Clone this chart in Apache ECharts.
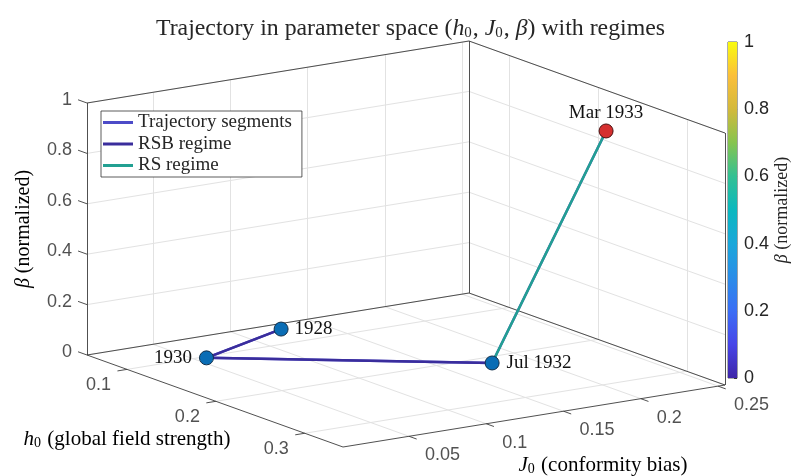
<!DOCTYPE html>
<html><head><meta charset="utf-8">
<script src="https://cdn.jsdelivr.net/npm/echarts@6/dist/echarts.min.js"></script>
<style>html,body{margin:0;padding:0;background:#fff}#c{width:792px;height:476px}</style>
</head><body><div id="c"></div>
<script>
// ---------- data ----------
const pointLabels = ['1928', '1930', 'Jul 1932', 'Mar 1933'];
const h0Values   = [0.067, 0.103, 0.214, 0.297];
const j0Values   = [0.126, 0.057, 0.178, 0.204];
const betaValues = [0, 0, 0, 1];
const rsbPoints = ['1928', '1930', 'Jul 1932'];
const rsPoints  = ['Jul 1932', 'Mar 1933'];
const h0Ticks   = [0.1, 0.2, 0.3];
const j0Ticks   = [0.05, 0.1, 0.15, 0.2, 0.25];
const betaTicks = [0, 0.2, 0.4, 0.6, 0.8, 1];
const h0Lim   = [0.055, 0.343];
const j0Lim   = [0.0073, 0.2545];
const betaLim = [0, 1];

// ---------- camera (orthographic view) ----------
const ORIGIN = [87, 355];
const VEC_H = [256, 92];
const VEC_J = [382, -62];
const VEC_Z = [0, -252];
function P(h, j, z) {
  const fa = (h - h0Lim[0]) / (h0Lim[1] - h0Lim[0]);
  const fb = (j - j0Lim[0]) / (j0Lim[1] - j0Lim[0]);
  const fz = (z - betaLim[0]) / (betaLim[1] - betaLim[0]);
  return [ORIGIN[0] + fa * VEC_H[0] + fb * VEC_J[0] + fz * VEC_Z[0],
          ORIGIN[1] + fa * VEC_H[1] + fb * VEC_J[1] + fz * VEC_Z[1]];
}
const [hA, hB] = h0Lim, [jA, jB] = j0Lim, [zA, zB] = betaLim;
const seg = (a, b) => ({ coords: [P(...a), P(...b)] });

// grid lines on back planes
const gridLines = [];
h0Ticks.forEach(h => { gridLines.push(seg([h, jA, zA], [h, jB, zA])); gridLines.push(seg([h, jB, zA], [h, jB, zB])); });
j0Ticks.forEach(j => { gridLines.push(seg([hA, j, zA], [hB, j, zA])); gridLines.push(seg([hA, j, zA], [hA, j, zB])); });
betaTicks.forEach(z => { gridLines.push(seg([hA, jA, z], [hA, jB, z])); gridLines.push(seg([hA, jB, z], [hB, jB, z])); });

const boxLines = [
  seg([hA, jA, zA], [hA, jA, zB]),
  seg([hA, jA, zA], [hB, jA, zA]),
  seg([hB, jA, zA], [hB, jB, zA]),
  seg([hB, jB, zA], [hB, jB, zB]),
  seg([hA, jB, zA], [hA, jB, zB]),
  seg([hA, jA, zB], [hA, jB, zB]),
  seg([hA, jB, zB], [hB, jB, zB]),
  seg([hA, jA, zA], [hA, jB, zA]),
  seg([hA, jB, zA], [hB, jB, zA])
];
const tickLines = [];
h0Ticks.forEach(h => tickLines.push(seg([h, jA, zA], [h, jA - 0.025 * (jB - jA), zA])));
j0Ticks.forEach(j => tickLines.push(seg([hB, j, zA], [hB + 0.03 * (hB - hA), j, zA])));
betaTicks.forEach(z => tickLines.push(seg([hA, jA, z], [hA - 0.035 * (hB - hA), jA, z])));

const idx = n => pointLabels.indexOf(n);
const proj = i => P(h0Values[i], j0Values[i], betaValues[i]);
const trajData = pointLabels.map((n, i) => proj(i));
const rsbData = rsbPoints.map(n => proj(idx(n)));
const rsData = rsPoints.map(n => proj(idx(n)));

const labelPos = { '1928': ['right', 6], '1930': ['left', 7], 'Jul 1932': ['right', 7], 'Mar 1933': ['top', 1] };
const markerData = pointLabels.map((n, i) => ({
  value: proj(i), name: n,
  itemStyle: { color: n === 'Mar 1933' ? '#d52f2f' : '#0a6db5', borderColor: n === 'Mar 1933' ? '#4a1010' : '#13304a', borderWidth: 1, opacity: 1 },
  label: { position: labelPos[n][0], distance: labelPos[n][1] }
}));

const SERIF = 'Liberation Serif';
const SANS = 'Liberation Sans';
const TXT = '#262626';
function richMath(fs, sub) {
  return {
    i: { fontFamily: SERIF, fontStyle: 'italic', fontSize: fs, color: TXT },
    s: { fontFamily: SERIF, fontSize: sub, color: TXT, padding: [Math.round(fs * 0.4), 1, 0, 0] },
    n: { fontFamily: SERIF, fontSize: fs, color: TXT }
  };
}

function tickLabelSeries(ticks, fn, offset, align) {
  return {
    type: 'scatter', xAxisIndex: 0, yAxisIndex: 0, symbolSize: 0, silent: true, z: 3,
    data: ticks.map(t => ({ value: fn(t), name: String(t) })),
    label: { show: true, position: 'inside', offset: offset, align: align, verticalAlign: 'middle',
      formatter: p => p.name, fontFamily: SANS, fontSize: 18, color: TXT }
  };
}

const parula = [
  [0, '#3e26a8'], [0.1, '#4745e8'], [0.2, '#3b6ef5'], [0.3, '#2a8de8'], [0.4, '#1aa7da'],
  [0.5, '#0bb8bf'], [0.6, '#33c093'], [0.7, '#86c44f'], [0.8, '#d3b93c'], [0.9, '#fbbf3a'], [1, '#f9fb0e']
];

const chart = echarts.init(document.getElementById('c'), null, { renderer: 'canvas' });
chart.setOption({
  animation: false,
  backgroundColor: '#ffffff',
  title: {
    left: 151, top: 11,
    text: '{n|Trajectory in parameter space (}{i|h}{s|0}{n|, }{i|J}{s|0}{n|, }{i|β}{n|) with regimes}',
    textStyle: { fontFamily: SERIF, fontSize: 23.8, fontWeight: 'normal', color: '#000', rich: richMath(23.8, 15) }
  },
  legend: {
    data: ['Trajectory segments', 'RSB regime', 'RS regime'],
    orient: 'vertical', left: 101, top: 111,
    padding: [2, 10, 2, 2], itemGap: 2.5, itemWidth: 30, itemHeight: 3, icon: 'rect',
    backgroundColor: '#fff', borderColor: '#333', borderWidth: 0.8, borderRadius: 0,
    textStyle: { fontFamily: SERIF, fontSize: 19, color: TXT, lineHeight: 19 }
  },
  grid: [
    { left: 0, top: 0, width: 792, height: 476 },
    { left: 728, top: 42, width: 15, height: 336, show: true, borderColor: '#333', borderWidth: 0.8, backgroundColor: 'transparent' }
  ],
  xAxis: [
    { type: 'value', gridIndex: 0, min: 0, max: 792, show: false },
    { type: 'category', gridIndex: 1, data: ['c'], show: false }
  ],
  yAxis: [
    { type: 'value', gridIndex: 0, min: 0, max: 476, inverse: true, show: false },
    { type: 'value', gridIndex: 1, position: 'right', min: 0, max: 1, interval: 0.2,
      axisLine: { show: false }, splitLine: { show: false },
      axisTick: { show: true, inside: true, length: 3, lineStyle: { color: '#333' } },
      axisLabel: { fontFamily: SANS, fontSize: 18, color: TXT, margin: 7 },
      name: '{i|β}{n| (normalized)}', nameLocation: 'middle', nameRotate: 90, nameGap: 33,
      nameTextStyle: { fontFamily: SERIF, fontSize: 18, color: TXT, rich: richMath(18, 12) } }
  ],
  graphic: [
    { type: 'text', x: 24, y: 229, rotation: Math.PI / 2,
      style: { text: '{i|β}{n| (normalized)}', rich: richMath(20, 13), align: 'center', verticalAlign: 'middle' } },
    { type: 'text', x: 127, y: 439,
      style: { text: '{i|h}{s|0}{n| (global field strength)}', rich: richMath(21, 14), align: 'center', verticalAlign: 'middle' } },
    { type: 'text', x: 603, y: 465,
      style: { text: '{i|J}{s|0}{n| (conformity bias)}', rich: richMath(21, 14), align: 'center', verticalAlign: 'middle' } }
  ],
  series: [
    { type: 'lines', coordinateSystem: 'cartesian2d', xAxisIndex: 0, yAxisIndex: 0, silent: true, z: 1,
      data: gridLines, lineStyle: { color: '#e2e2e2', width: 1, opacity: 1 } },
    { type: 'lines', coordinateSystem: 'cartesian2d', xAxisIndex: 0, yAxisIndex: 0, silent: true, z: 2,
      data: boxLines.concat(tickLines), lineStyle: { color: '#3c3c3c', width: 0.9, opacity: 1 } },
    tickLabelSeries(h0Ticks, h => P(h, jA, zA), [-16, 16], 'right'),
    tickLabelSeries(j0Ticks, j => P(hB, j, zA), [16, 19], 'left'),
    tickLabelSeries(betaTicks, z => P(hA, jA, z), [-15, -3], 'right'),
    { name: 'Trajectory segments', type: 'line', xAxisIndex: 0, yAxisIndex: 0, data: trajData, symbol: 'none',
      color: '#4d4bc8', lineStyle: { width: 2.5 }, z: 4 },
    { name: 'RSB regime', type: 'line', xAxisIndex: 0, yAxisIndex: 0, data: rsbData, symbol: 'none',
      color: '#3a2d9c', lineStyle: { width: 2.5 }, z: 5 },
    { name: 'RS regime', type: 'line', xAxisIndex: 0, yAxisIndex: 0, data: rsData, symbol: 'none',
      color: '#22a092', lineStyle: { width: 2.5 }, z: 5 },
    { type: 'scatter', xAxisIndex: 0, yAxisIndex: 0, symbolSize: 14, z: 6, data: markerData,
      label: { show: true, formatter: p => p.name, fontFamily: SERIF, fontSize: 19, color: '#111' } },
    { type: 'bar', xAxisIndex: 1, yAxisIndex: 1, data: [1], barWidth: '100%', silent: true,
      itemStyle: { color: new echarts.graphic.LinearGradient(0, 1, 0, 0, parula.map(s => ({ offset: s[0], color: s[1] }))) } }
  ]
});
</script></body></html>
